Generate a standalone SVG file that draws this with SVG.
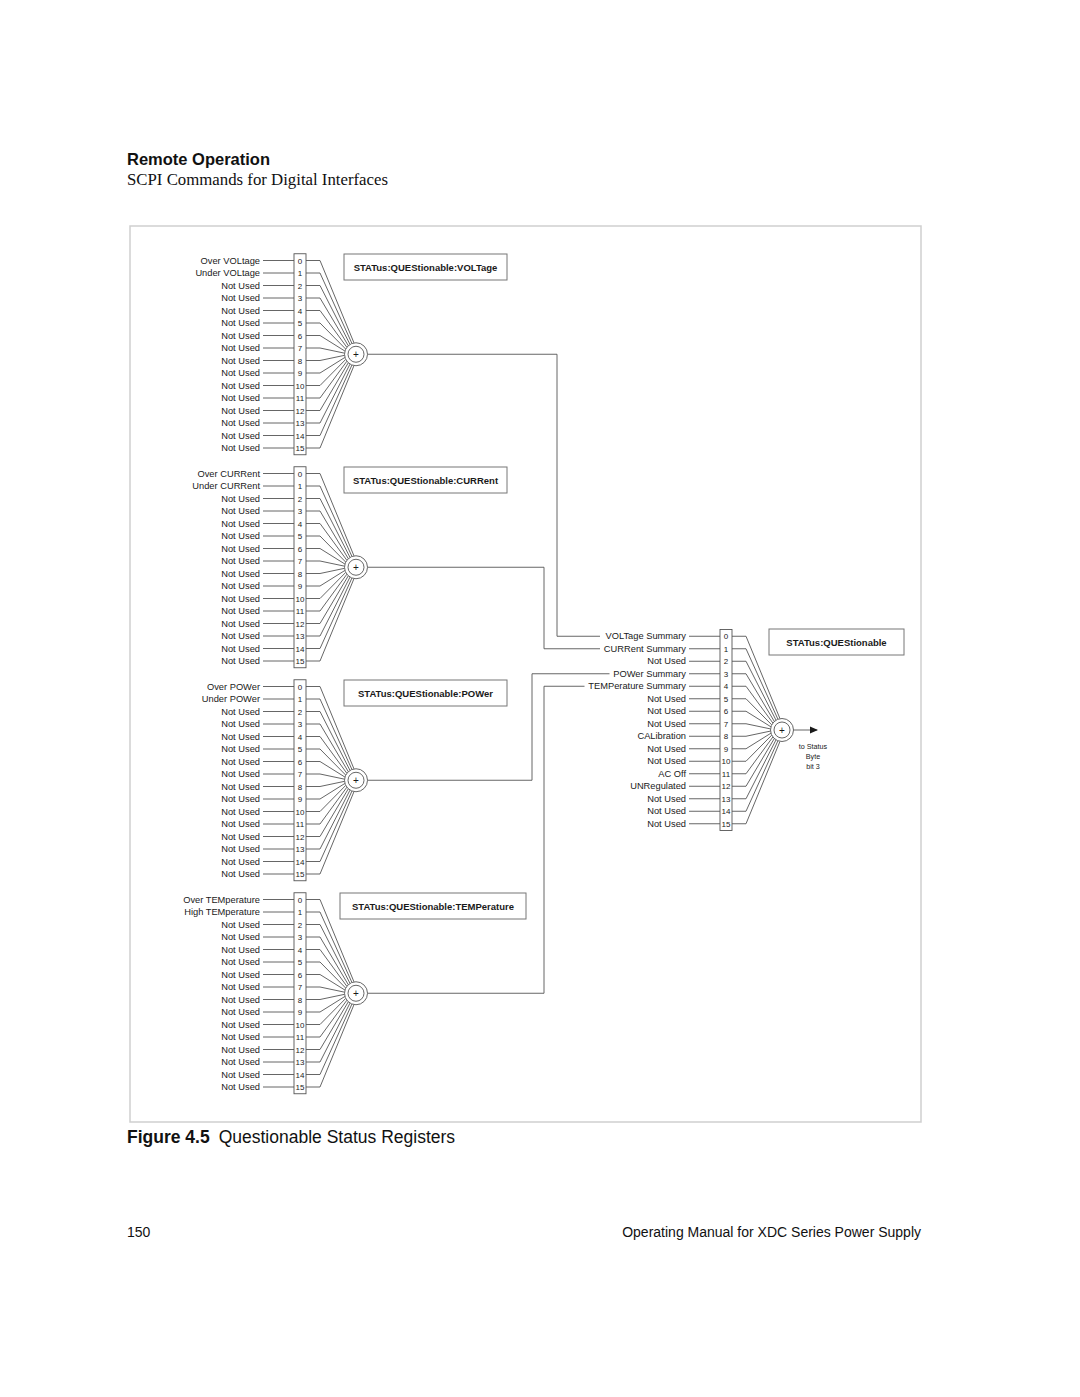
<svg xmlns="http://www.w3.org/2000/svg" xmlns:xlink="http://www.w3.org/1999/xlink" width="1080" height="1397" viewBox="0 0 1080 1397">
<style>
.lbl{font-family:"Liberation Sans",Arial,sans-serif;font-size:9.3px;text-anchor:end;fill:#1a1a1a}
.num{font-family:"Liberation Sans",Arial,sans-serif;font-size:8px;text-anchor:middle;fill:#1a1a1a}
.plus{font-family:"Liberation Sans",Arial,sans-serif;font-size:10px;text-anchor:middle;fill:#1a1a1a}
.ttl{font-family:"Liberation Sans",Arial,sans-serif;font-size:9.5px;font-weight:bold;text-anchor:middle;fill:#1a1a1a}
.small{font-family:"Liberation Sans",Arial,sans-serif;font-size:7.2px;text-anchor:middle;fill:#1a1a1a}
.ln{stroke:#555;stroke-width:0.9;fill:none}
.box{fill:#fff;stroke:#555;stroke-width:0.9}
.tbox{fill:#fff;stroke:#777;stroke-width:1}
</style>
<defs>
<path id="ticks" d="M-93,-93.75H-62M-93,-81.25H-62M-93,-68.75H-62M-93,-56.25H-62M-93,-43.75H-62M-93,-31.25H-62M-93,-18.75H-62M-93,-6.25H-62M-93,6.25H-62M-93,18.75H-62M-93,31.25H-62M-93,43.75H-62M-93,56.25H-62M-93,68.75H-62M-93,81.25H-62M-93,93.75H-62" stroke="#555" stroke-width="0.9" fill="none"/>
<path id="fan" d="M-50,-93.75H-36L-2,-11.33M-50,-81.25H-36L-4.06,-10.76M-50,-68.75H-36L-5.98,-9.82M-50,-56.25H-36L-7.69,-8.55M-50,-43.75H-36L-9.14,-6.97M-50,-31.25H-36L-10.28,-5.16M-50,-18.75H-36L-11.05,-3.17M-50,-6.25H-36L-11.45,-1.07M-50,6.25H-36L-11.45,1.07M-50,18.75H-36L-11.05,3.17M-50,31.25H-36L-10.28,5.16M-50,43.75H-36L-9.14,6.97M-50,56.25H-36L-7.69,8.55M-50,68.75H-36L-5.98,9.82M-50,81.25H-36L-4.06,10.76M-50,93.75H-36L-2,11.33" stroke="#555" stroke-width="0.9" fill="none"/>
<g id="regbody">
<use xlink:href="#ticks"/>
<rect x="-62" y="-100.5" width="12" height="201" fill="#fff" stroke="#555" stroke-width="0.9"/>
<use xlink:href="#fan"/>
<circle r="11.5" fill="#fff" stroke="#555" stroke-width="0.9"/>
<circle r="8" fill="#fff" stroke="#555" stroke-width="0.9"/>
</g>
<marker id="arr" markerWidth="8" markerHeight="8" refX="7" refY="4" orient="auto" markerUnits="userSpaceOnUse"><path d="M0,0.5L8,4L0,7.5Z" fill="#1a1a1a"/></marker>
</defs>
<rect width="1080" height="1397" fill="#fff"/>
<g id="header">
<text x="127" y="164.5" font-family="'Liberation Sans',Arial,sans-serif" font-size="16.5" font-weight="bold" fill="#111">Remote Operation</text>
<text x="127" y="185" font-family="'Liberation Serif','Times New Roman',serif" font-size="16.8" fill="#111">SCPI Commands for Digital Interfaces</text>
</g>
<rect id="frame" x="130" y="226" width="791" height="896" fill="none" stroke="#cfcfcf" stroke-width="1.5"/>

<g id="connectors" class="ln">
<polyline points="367.5,354.25 557,354.25 557,636.25 600,636.25"/>
<polyline points="367.5,567.25 544,567.25 544,648.75 600,648.75"/>
<polyline points="367.5,780.25 532,780.25 532,673.75 609.5,673.75"/>
<polyline points="367.5,993.25 544,993.25 544,686.25 584.5,686.25"/>
<line x1="793.5" y1="730" x2="817" y2="730" marker-end="url(#arr)"/>
</g>

<g id="reg-voltage" transform="translate(356,354.25)">
<use xlink:href="#regbody"/>
<text class="plus" y="3.5">+</text>
<text class="num"><tspan x="-56" y="-90.55">0</tspan><tspan x="-56" y="-78.05">1</tspan><tspan x="-56" y="-65.55">2</tspan><tspan x="-56" y="-53.05">3</tspan><tspan x="-56" y="-40.55">4</tspan><tspan x="-56" y="-28.05">5</tspan><tspan x="-56" y="-15.55">6</tspan><tspan x="-56" y="-3.05">7</tspan><tspan x="-56" y="9.45">8</tspan><tspan x="-56" y="21.95">9</tspan><tspan x="-56" y="34.45">10</tspan><tspan x="-56" y="46.95">11</tspan><tspan x="-56" y="59.45">12</tspan><tspan x="-56" y="71.95">13</tspan><tspan x="-56" y="84.45">14</tspan><tspan x="-56" y="96.95">15</tspan></text>
<text class="lbl"><tspan x="-96" y="-90.55">Over VOLtage</tspan><tspan x="-96" y="-78.05">Under VOLtage</tspan><tspan x="-96" y="-65.55">Not Used</tspan><tspan x="-96" y="-53.05">Not Used</tspan><tspan x="-96" y="-40.55">Not Used</tspan><tspan x="-96" y="-28.05">Not Used</tspan><tspan x="-96" y="-15.55">Not Used</tspan><tspan x="-96" y="-3.05">Not Used</tspan><tspan x="-96" y="9.45">Not Used</tspan><tspan x="-96" y="21.95">Not Used</tspan><tspan x="-96" y="34.45">Not Used</tspan><tspan x="-96" y="46.95">Not Used</tspan><tspan x="-96" y="59.45">Not Used</tspan><tspan x="-96" y="71.95">Not Used</tspan><tspan x="-96" y="84.45">Not Used</tspan><tspan x="-96" y="96.95">Not Used</tspan></text>
</g>
<g id="title-voltage"><rect class="tbox" x="344" y="254" width="163" height="26"/><text class="ttl" x="425.5" y="270.5">STATus:QUEStionable:VOLTage</text></g>

<g id="reg-current" transform="translate(356,567.25)">
<use xlink:href="#regbody"/>
<text class="plus" y="3.5">+</text>
<text class="num"><tspan x="-56" y="-90.55">0</tspan><tspan x="-56" y="-78.05">1</tspan><tspan x="-56" y="-65.55">2</tspan><tspan x="-56" y="-53.05">3</tspan><tspan x="-56" y="-40.55">4</tspan><tspan x="-56" y="-28.05">5</tspan><tspan x="-56" y="-15.55">6</tspan><tspan x="-56" y="-3.05">7</tspan><tspan x="-56" y="9.45">8</tspan><tspan x="-56" y="21.95">9</tspan><tspan x="-56" y="34.45">10</tspan><tspan x="-56" y="46.95">11</tspan><tspan x="-56" y="59.45">12</tspan><tspan x="-56" y="71.95">13</tspan><tspan x="-56" y="84.45">14</tspan><tspan x="-56" y="96.95">15</tspan></text>
<text class="lbl"><tspan x="-96" y="-90.55">Over CURRent</tspan><tspan x="-96" y="-78.05">Under CURRent</tspan><tspan x="-96" y="-65.55">Not Used</tspan><tspan x="-96" y="-53.05">Not Used</tspan><tspan x="-96" y="-40.55">Not Used</tspan><tspan x="-96" y="-28.05">Not Used</tspan><tspan x="-96" y="-15.55">Not Used</tspan><tspan x="-96" y="-3.05">Not Used</tspan><tspan x="-96" y="9.45">Not Used</tspan><tspan x="-96" y="21.95">Not Used</tspan><tspan x="-96" y="34.45">Not Used</tspan><tspan x="-96" y="46.95">Not Used</tspan><tspan x="-96" y="59.45">Not Used</tspan><tspan x="-96" y="71.95">Not Used</tspan><tspan x="-96" y="84.45">Not Used</tspan><tspan x="-96" y="96.95">Not Used</tspan></text>
</g>
<g id="title-current"><rect class="tbox" x="344" y="467" width="163" height="26"/><text class="ttl" x="425.5" y="483.5">STATus:QUEStionable:CURRent</text></g>

<g id="reg-power" transform="translate(356,780.25)">
<use xlink:href="#regbody"/>
<text class="plus" y="3.5">+</text>
<text class="num"><tspan x="-56" y="-90.55">0</tspan><tspan x="-56" y="-78.05">1</tspan><tspan x="-56" y="-65.55">2</tspan><tspan x="-56" y="-53.05">3</tspan><tspan x="-56" y="-40.55">4</tspan><tspan x="-56" y="-28.05">5</tspan><tspan x="-56" y="-15.55">6</tspan><tspan x="-56" y="-3.05">7</tspan><tspan x="-56" y="9.45">8</tspan><tspan x="-56" y="21.95">9</tspan><tspan x="-56" y="34.45">10</tspan><tspan x="-56" y="46.95">11</tspan><tspan x="-56" y="59.45">12</tspan><tspan x="-56" y="71.95">13</tspan><tspan x="-56" y="84.45">14</tspan><tspan x="-56" y="96.95">15</tspan></text>
<text class="lbl"><tspan x="-96" y="-90.55">Over POWer</tspan><tspan x="-96" y="-78.05">Under POWer</tspan><tspan x="-96" y="-65.55">Not Used</tspan><tspan x="-96" y="-53.05">Not Used</tspan><tspan x="-96" y="-40.55">Not Used</tspan><tspan x="-96" y="-28.05">Not Used</tspan><tspan x="-96" y="-15.55">Not Used</tspan><tspan x="-96" y="-3.05">Not Used</tspan><tspan x="-96" y="9.45">Not Used</tspan><tspan x="-96" y="21.95">Not Used</tspan><tspan x="-96" y="34.45">Not Used</tspan><tspan x="-96" y="46.95">Not Used</tspan><tspan x="-96" y="59.45">Not Used</tspan><tspan x="-96" y="71.95">Not Used</tspan><tspan x="-96" y="84.45">Not Used</tspan><tspan x="-96" y="96.95">Not Used</tspan></text>
</g>
<g id="title-power"><rect class="tbox" x="344" y="680" width="163" height="26"/><text class="ttl" x="425.5" y="696.5">STATus:QUEStionable:POWer</text></g>

<g id="reg-temperature" transform="translate(356,993.25)">
<use xlink:href="#regbody"/>
<text class="plus" y="3.5">+</text>
<text class="num"><tspan x="-56" y="-90.55">0</tspan><tspan x="-56" y="-78.05">1</tspan><tspan x="-56" y="-65.55">2</tspan><tspan x="-56" y="-53.05">3</tspan><tspan x="-56" y="-40.55">4</tspan><tspan x="-56" y="-28.05">5</tspan><tspan x="-56" y="-15.55">6</tspan><tspan x="-56" y="-3.05">7</tspan><tspan x="-56" y="9.45">8</tspan><tspan x="-56" y="21.95">9</tspan><tspan x="-56" y="34.45">10</tspan><tspan x="-56" y="46.95">11</tspan><tspan x="-56" y="59.45">12</tspan><tspan x="-56" y="71.95">13</tspan><tspan x="-56" y="84.45">14</tspan><tspan x="-56" y="96.95">15</tspan></text>
<text class="lbl"><tspan x="-96" y="-90.55">Over TEMperature</tspan><tspan x="-96" y="-78.05">High TEMperature</tspan><tspan x="-96" y="-65.55">Not Used</tspan><tspan x="-96" y="-53.05">Not Used</tspan><tspan x="-96" y="-40.55">Not Used</tspan><tspan x="-96" y="-28.05">Not Used</tspan><tspan x="-96" y="-15.55">Not Used</tspan><tspan x="-96" y="-3.05">Not Used</tspan><tspan x="-96" y="9.45">Not Used</tspan><tspan x="-96" y="21.95">Not Used</tspan><tspan x="-96" y="34.45">Not Used</tspan><tspan x="-96" y="46.95">Not Used</tspan><tspan x="-96" y="59.45">Not Used</tspan><tspan x="-96" y="71.95">Not Used</tspan><tspan x="-96" y="84.45">Not Used</tspan><tspan x="-96" y="96.95">Not Used</tspan></text>
</g>
<g id="title-temperature"><rect class="tbox" x="340" y="893" width="186" height="26"/><text class="ttl" x="433" y="909.5">STATus:QUEStionable:TEMPerature</text></g>

<g id="reg-questionable" transform="translate(782,730)">
<use xlink:href="#regbody"/>
<text class="plus" y="3.5">+</text>
<text class="num"><tspan x="-56" y="-90.55">0</tspan><tspan x="-56" y="-78.05">1</tspan><tspan x="-56" y="-65.55">2</tspan><tspan x="-56" y="-53.05">3</tspan><tspan x="-56" y="-40.55">4</tspan><tspan x="-56" y="-28.05">5</tspan><tspan x="-56" y="-15.55">6</tspan><tspan x="-56" y="-3.05">7</tspan><tspan x="-56" y="9.45">8</tspan><tspan x="-56" y="21.95">9</tspan><tspan x="-56" y="34.45">10</tspan><tspan x="-56" y="46.95">11</tspan><tspan x="-56" y="59.45">12</tspan><tspan x="-56" y="71.95">13</tspan><tspan x="-56" y="84.45">14</tspan><tspan x="-56" y="96.95">15</tspan></text>
<text class="lbl"><tspan x="-96" y="-90.55">VOLTage Summary</tspan><tspan x="-96" y="-78.05">CURRent Summary</tspan><tspan x="-96" y="-65.55">Not Used</tspan><tspan x="-96" y="-53.05">POWer Summary</tspan><tspan x="-96" y="-40.55">TEMPerature Summary</tspan><tspan x="-96" y="-28.05">Not Used</tspan><tspan x="-96" y="-15.55">Not Used</tspan><tspan x="-96" y="-3.05">Not Used</tspan><tspan x="-96" y="9.45">CALibration</tspan><tspan x="-96" y="21.95">Not Used</tspan><tspan x="-96" y="34.45">Not Used</tspan><tspan x="-96" y="46.95">AC Off</tspan><tspan x="-96" y="59.45">UNRegulated</tspan><tspan x="-96" y="71.95">Not Used</tspan><tspan x="-96" y="84.45">Not Used</tspan><tspan x="-96" y="96.95">Not Used</tspan></text>
</g>
<g id="title-questionable"><rect class="tbox" x="769" y="629" width="135" height="26"/><text class="ttl" x="836.5" y="645.5">STATus:QUEStionable</text></g>
<g id="status-byte-note">
<text class="small" x="813" y="749">to Status</text>
<text class="small" x="813" y="759">Byte</text>
<text class="small" x="813" y="769">bit 3</text>
</g>

<g id="caption">
<text x="127" y="1143.3" font-family="'Liberation Sans',Arial,sans-serif" font-size="17.5" fill="#111"><tspan font-weight="bold">Figure 4.5</tspan><tspan dx="9">Questionable Status Registers</tspan></text>
</g>
<g id="footer">
<text x="127" y="1237" font-family="'Liberation Sans',Arial,sans-serif" font-size="14" fill="#111">150</text>
<text x="921" y="1237" font-family="'Liberation Sans',Arial,sans-serif" font-size="14" text-anchor="end" fill="#111">Operating Manual for XDC Series Power Supply</text>
</g>
</svg>
